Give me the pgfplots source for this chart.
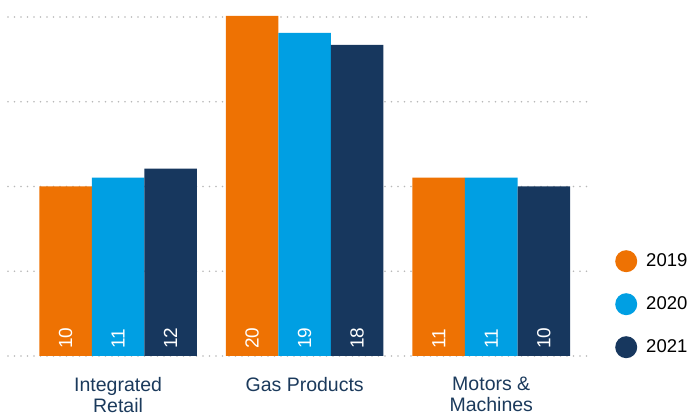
\documentclass[border=0pt]{standalone}
\usepackage{pgfplots}
\pgfplotsset{compat=1.18}
\usepackage{fontspec}
\setmainfont{Liberation Sans}
\definecolor{c19}{HTML}{EE7203}
\definecolor{c20}{HTML}{009FE3}
\definecolor{c21}{HTML}{17375E}
\definecolor{lab}{HTML}{1B3A5C}
\definecolor{gridc}{HTML}{B8B8B8}
\begin{document}
\begin{tikzpicture}[x=1pt,y=1pt]
\useasboundingbox (-8,-58) rectangle (687,356);
\begin{axis}[
  at={(0,0)}, anchor=south west,
  width=584pt, height=339pt, scale only axis,
  xmin=-0.59, xmax=2.54, ymin=0, ymax=20,
  clip=false,
  axis line style={draw=none},
  xtick={0,1,2},
  xticklabels={{Integrated\\Retail},{Gas Products},{Motors \&\\Machines}},
  xticklabel style={align=center, font=\fontsize{19.5}{21}\selectfont, text=lab, inner sep=0pt, yshift=-21pt},
  major tick length=0pt,
  ytick={0,5,10,15,20}, yticklabels={},
  ymajorgrids,
  grid style={gridc, line width=1.8pt, dash pattern=on 0pt off 6.5pt, line cap=round},
  legend style={at={(axis description cs:1.0394,0.3127)}, anchor=north west, draw=none, fill=none,
    inner sep=0pt, row sep=21pt, column sep=9pt, font=\fontsize{18.5}{21}\selectfont,
    nodes={inner sep=0pt, text=black}},
  legend cell align=left,
  legend image code/.code={\fill[#1, draw=none] (0pt,0pt) circle (11pt);},
  lbl/.style={draw=none, forget plot, nodes near coords, point meta=explicit symbolic,
    every node near coord/.style={yshift=7pt, rotate=90, anchor=west, text=white, inner sep=0pt,
      font=\fontsize{19}{19}\selectfont}},
]
\addplot[ybar, bar width=0.2815, bar shift=-0.2815, fill=c19, draw=none, forget plot]
  coordinates {(0,10.0) (1,20.06) (2,10.53)};
\addplot[ybar, bar width=0.2815, bar shift=0, fill=c20, draw=none, forget plot]
  coordinates {(0,10.53) (1,19.06) (2,10.53)};
\addplot[ybar, bar width=0.2815, bar shift=0.2815, fill=c21, draw=none, forget plot]
  coordinates {(0,11.06) (1,18.35) (2,10.0)};
\addplot[lbl] coordinates {(-0.2815,0)[10] (0.7185,0)[20] (1.7185,0)[11]};
\addplot[lbl] coordinates {(0,0)[11] (1,0)[19] (2,0)[11]};
\addplot[lbl] coordinates {(0.2815,0)[12] (1.2815,0)[18] (2.2815,0)[10]};
\addlegendimage{fill=c19, draw=none}\addlegendentry{2019}
\addlegendimage{fill=c20, draw=none}\addlegendentry{2020}
\addlegendimage{fill=c21, draw=none}\addlegendentry{2021}
\end{axis}
\end{tikzpicture}
\end{document}
